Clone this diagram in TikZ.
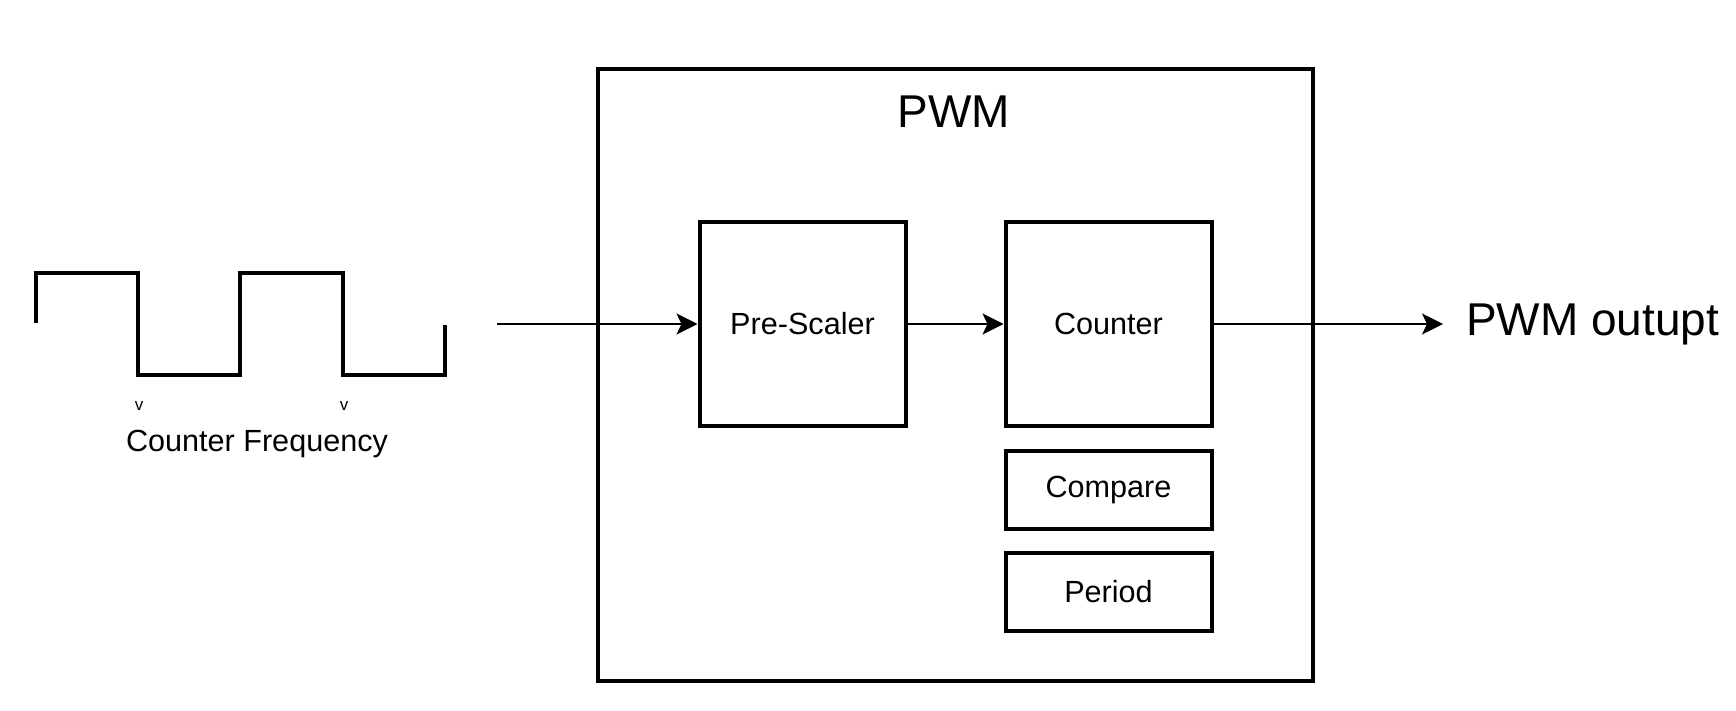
\documentclass[tikz,border=0pt]{standalone}
\usepackage{fontspec}
\setmainfont{Liberation Sans}
\usetikzlibrary{arrows.meta}
\begin{document}
\begin{tikzpicture}[x=1pt,y=-1pt,
  blk/.style={draw, line width=4pt, inner sep=0pt, minimum width=206pt,
    font=\fontsize{30.6}{36}\selectfont},
  bigbox/.style={blk, minimum height=204pt},
  smallbox/.style={blk, minimum height=78pt},
  wire/.style={line width=2pt, -{Stealth[length=21pt, width=21pt, inset=5pt]}},
  bigtext/.style={inner sep=0pt, font=\fontsize{46}{54}\selectfont},
  midtext/.style={inner sep=0pt, font=\fontsize{30.6}{36}\selectfont},
  tinytext/.style={inner sep=0pt, font=\fontsize{17}{19}\selectfont}
]
\useasboundingbox (0,0) rectangle (1736,710);
% outer PWM box
\node[draw, line width=4pt, minimum width=715pt, minimum height=612pt, inner sep=0pt] (pwm) at (955.5,375) {};
\node[bigtext] (title) at (954,112) {PWM};
% blocks
\node[bigbox] (pre) at (802.5,324) {Pre-Scaler};
\node[bigbox] (cnt) at (1108.5,324) {Counter};
\node[smallbox] (cmp) at (1108.5,490) {Compare};
\node[smallbox] (per) at (1108.5,592) {Period};
% square wave
\draw[line width=4pt, line join=miter] (36,323) -- (36,273) -- (138,273) -- (138,375) -- (240,375) -- (240,273) -- (343,273) -- (343,375) -- (445,375) -- (445,325);
\node[tinytext] (v1) at (139,406) {v};
\node[tinytext] (v2) at (344,406) {v};
\node[midtext, anchor=base] (freq) at (257,451) {Counter Frequency};
% connectors
\coordinate (in) at (497,324);
\coordinate (out) at (1443,324);
\draw[wire] (in) -- (pre.west);
\draw[wire] (pre.east) -- (cnt.west);
\draw[wire] (cnt.east) -- (out);
\node[bigtext, anchor=west] (outlbl) at (1466,324) {PWM outupt};
\end{tikzpicture}
\end{document}
